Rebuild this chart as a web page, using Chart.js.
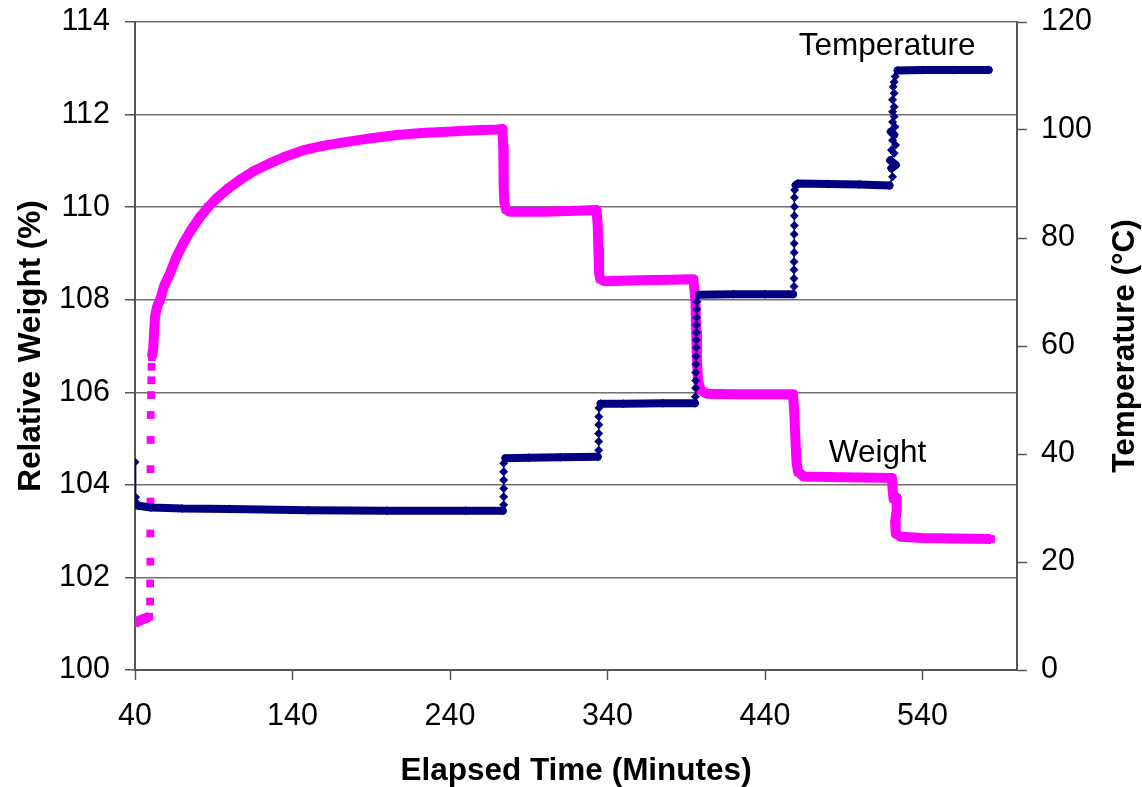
<!DOCTYPE html>
<html>
<head>
<meta charset="utf-8">
<style>
    body { margin: 0; background: white; }
    canvas { display: block; }
</style>
</head>
<body>
<canvas id="tgaChart" width="1142" height="787"></canvas>

<script src="https://cdn.jsdelivr.net/npm/chart.js@4.4.1/dist/chart.umd.min.js"></script>
<script>
// Données
const xTicks = [40, 140, 240, 340, 440, 540];

// Poids relatif (%) - axe de gauche
const weightTime = [
    40.0, 43.0, 46.0, 49.0,
    49.6, 49.6, 49.7, 49.7, 49.8, 49.8, 49.9, 50.0, 50.2, 50.3, 50.5, 50.7,
    51.6, 52.2, 52.7, 54.0, 55.9, 58.5, 62.2, 66.0, 70.7, 75.5, 81.3, 86.5, 91.9, 99.0,
    106.7, 115.5, 125.8, 136.0, 147.0, 160.0, 174.6, 190.0, 206.3, 222.0, 238.1, 255.0, 270.0, 273.3,
    273.8, 274.0, 274.2, 274.5, 275.5, 278.0,
    300.0, 320.0, 333.0,
    333.8, 334.2, 334.6, 335.3, 338.0,
    360.0, 380.0, 394.5,
    395.8, 396.3, 396.8, 397.5, 399.0, 403.0,
    420.0, 440.0, 457.8,
    458.5, 459.3, 460.0, 461.0, 464.7,
    480.0, 500.0, 520.6,
    521.0, 521.6, 523.6, 523.6, 522.6, 523.0, 526.3, 540.0, 560.0, 583.5
];
const weightValue = [
    101.02, 101.07, 101.11, 101.15,
    101.48, 101.87, 102.34, 102.95, 103.64, 104.34, 104.97, 105.51, 105.94, 106.26, 106.55, 106.76,
    106.95, 107.35, 107.63, 107.85, 107.99, 108.30, 108.57, 108.90, 109.22, 109.50, 109.79, 110.00, 110.19, 110.40,
    110.59, 110.78, 110.95, 111.10, 111.23, 111.33, 111.41, 111.49, 111.56, 111.60, 111.63, 111.66, 111.68, 111.69,
    111.30, 110.80, 110.40, 110.10, 109.95, 109.90,
    109.90, 109.92, 109.94,
    109.60, 109.10, 108.60, 108.45, 108.40,
    108.42, 108.43, 108.44,
    108.00, 107.30, 106.70, 106.25, 106.05, 105.97,
    105.96, 105.96, 105.96,
    105.60, 105.00, 104.50, 104.28, 104.18,
    104.17, 104.16, 104.15,
    103.90, 103.70, 103.72, 103.45, 103.20, 102.95, 102.88, 102.85, 102.84, 102.83
];

// Température (°C) - axe de droite
const tempTime = [
    40.0, 40.4, 40.8, 42.0, 50.0, 70.0, 100.0, 150.0, 200.0, 250.0, 273.5,
    274.1, 274.1, 274.1, 274.1, 274.1, 274.1, 275.2,
    290.0, 310.0, 333.8,
    334.4, 334.4, 334.4, 334.5, 334.5, 334.6, 335.6,
    350.0, 375.0, 395.5,
    395.8, 395.9, 396.0, 396.0, 396.1, 396.2, 396.3, 396.4, 396.5, 396.5, 396.6, 396.7, 396.8, 398.0,
    420.0, 440.0, 457.8,
    458.4, 458.4, 458.4, 458.4, 458.5, 458.5, 458.5, 458.6, 458.6, 458.7, 458.7, 458.8, 459.5, 461.0,
    480.0, 500.0, 519.0,
    521.0, 520.3, 523.1, 519.5, 522.0, 520.3, 522.9, 521.0, 522.0, 519.9, 522.5,
    521.0, 522.0, 521.0, 522.0, 521.0, 522.0, 521.4, 522.0, 522.7, 524.2,
    540.0, 560.0, 582.0
];
const tempValue = [
    38.5, 32.0, 31.0, 30.4, 30.1, 29.9, 29.8, 29.6, 29.5, 29.5, 29.5,
    30.6, 32.1, 33.6, 35.2, 36.7, 38.3, 39.2,
    39.3, 39.4, 39.5,
    40.7, 42.3, 43.8, 45.4, 46.9, 48.5, 49.3,
    49.3, 49.4, 49.4,
    50.6, 52.2, 53.6, 55.1, 56.6, 58.1, 59.7, 61.1, 62.5, 63.9, 65.3, 66.8, 68.2, 69.5,
    69.6, 69.6, 69.6,
    71.0, 72.5, 74.1, 75.6, 77.3, 79.0, 80.7, 82.3, 84.1, 85.8, 87.5, 88.9, 89.8, 90.1,
    90.0, 89.9, 89.7,
    91.35, 92.9, 93.5, 94.4, 95.7, 96.3, 97.2, 98.1, 99.1, 99.7, 100.6,
    101.5, 102.5, 103.4, 104.3, 105.6, 106.8, 108.0, 108.9, 109.9, 111.0,
    111.1, 111.1, 111.1
];

const FONT = '"Liberation Sans", Arial, sans-serif';
const MAGENTA = '#FF00FF';
const NAVY = '#000080';
const AXIS = '#555555';

function toPoints(xs, ys) {
    return xs.map((x, i) => ({ x: x, y: ys[i] }));
}

// Textes ajoutés sur le graphique (étiquettes + titre de l'axe de droite)
const textPlugin = {
    id: 'textPlugin',
    afterDraw(chart) {
        const ctx = chart.ctx;
        const x = chart.scales.x;
        const yL = chart.scales.yWeight;
        const yR = chart.scales.yTemp;
        ctx.save();
        ctx.fillStyle = '#000';
        ctx.font = '31.5px ' + FONT;
        ctx.textAlign = 'left';
        ctx.textBaseline = 'alphabetic';
        ctx.fillText('Temperature', x.getPixelForValue(461.4), yR.getPixelForValue(113.9));
        ctx.fillText('Weight', x.getPixelForValue(480.5), yL.getPixelForValue(104.5));

        // Titre de l'axe de droite, lu de bas en haut
        ctx.font = 'bold 31.5px ' + FONT;
        ctx.textAlign = 'center';
        ctx.textBaseline = 'middle';
        ctx.translate(1125, (chart.chartArea.top + chart.chartArea.bottom) / 2);
        ctx.rotate(-Math.PI / 2);
        ctx.fillText('Temperature (°C)', 0, 0);
        ctx.restore();
    }
};

const tickFont = { family: FONT, size: 30.5 };
const titleFont = { family: FONT, size: 31.5, weight: 'bold' };

function noVerticalPadding(scale) {
    scale.paddingTop = 0;
    scale.paddingBottom = 0;
}

new Chart(document.getElementById('tgaChart'), {
    type: 'scatter',
    data: {
        datasets: [
            {
                label: 'Temperature',
                data: toPoints(tempTime, tempValue),
                yAxisID: 'yTemp',
                showLine: true,
                borderColor: NAVY,
                backgroundColor: NAVY,
                borderWidth: 8,
                borderJoinStyle: 'round',
                borderCapStyle: 'round',
                pointStyle: 'rectRot',
                pointRadius: 4.5,
                pointBorderWidth: 0,
                pointBackgroundColor: NAVY,
                segment: {
                    // montées de température : fine ligne entre les marqueurs
                    borderWidth: c => Math.abs(c.p1.y - c.p0.y) > Math.abs(c.p1.x - c.p0.x) ? 1.5 : 8
                }
            },
            {
                label: 'Weight',
                data: toPoints(weightTime, weightValue),
                yAxisID: 'yWeight',
                showLine: true,
                borderColor: MAGENTA,
                backgroundColor: MAGENTA,
                borderWidth: 10,
                borderJoinStyle: 'round',
                borderCapStyle: 'butt',
                pointStyle: 'rect',
                pointRadius: 5.5,
                pointBorderWidth: 0,
                pointBackgroundColor: MAGENTA,
                segment: {
                    // saut initial : marqueurs seuls
                    borderColor: c => (c.p0.parsed.x < 51 && c.p1.parsed.y - c.p0.parsed.y > 0.2) ? 'transparent' : MAGENTA
                }
            }
        ]
    },
    options: {
        responsive: false,
        animation: false,
        layout: { padding: { top: 22, left: 0, right: 0, bottom: 0 } },
        plugins: {
            legend: { display: false },
            tooltip: { enabled: false }
        },
        scales: {
            x: {
                type: 'linear',
                min: 40,
                max: 600,
                afterBuildTicks: scale => { scale.ticks = xTicks.map(v => ({ value: v })); },
                afterFit: scale => { scale.height = 117; scale.paddingLeft = 0; scale.paddingRight = 0; },
                grid: { drawOnChartArea: false, tickLength: 10, tickColor: AXIS, tickWidth: 1.5 },
                border: { color: AXIS, width: 2 },
                ticks: { font: tickFont, color: '#000', padding: 18, maxRotation: 0 },
                title: { display: true, text: 'Elapsed Time (Minutes)', font: titleFont, color: '#000', padding: { top: 0, bottom: -3 } }
            },
            yWeight: {
                position: 'left',
                min: 100,
                max: 114,
                ticks: { stepSize: 2, font: tickFont, color: '#000', padding: 15 },
                afterFit: scale => { scale.width = 135; noVerticalPadding(scale); },
                grid: { color: '#707070', lineWidth: 1.5, tickLength: 10, tickColor: AXIS },
                border: { color: AXIS, width: 2 },
                title: { display: true, text: 'Relative Weight (%)', font: titleFont, color: '#000', padding: { top: 12, bottom: 0 } }
            },
            yTemp: {
                position: 'right',
                min: 0,
                max: 120,
                ticks: { stepSize: 20, font: tickFont, color: '#000', padding: 14 },
                afterFit: scale => { scale.width = 125; noVerticalPadding(scale); },
                grid: { drawOnChartArea: false, tickLength: 10, tickColor: AXIS, tickWidth: 1.5 },
                border: { color: AXIS, width: 2 }
            }
        }
    },
    plugins: [textPlugin]
});
</script>
</body>
</html>
